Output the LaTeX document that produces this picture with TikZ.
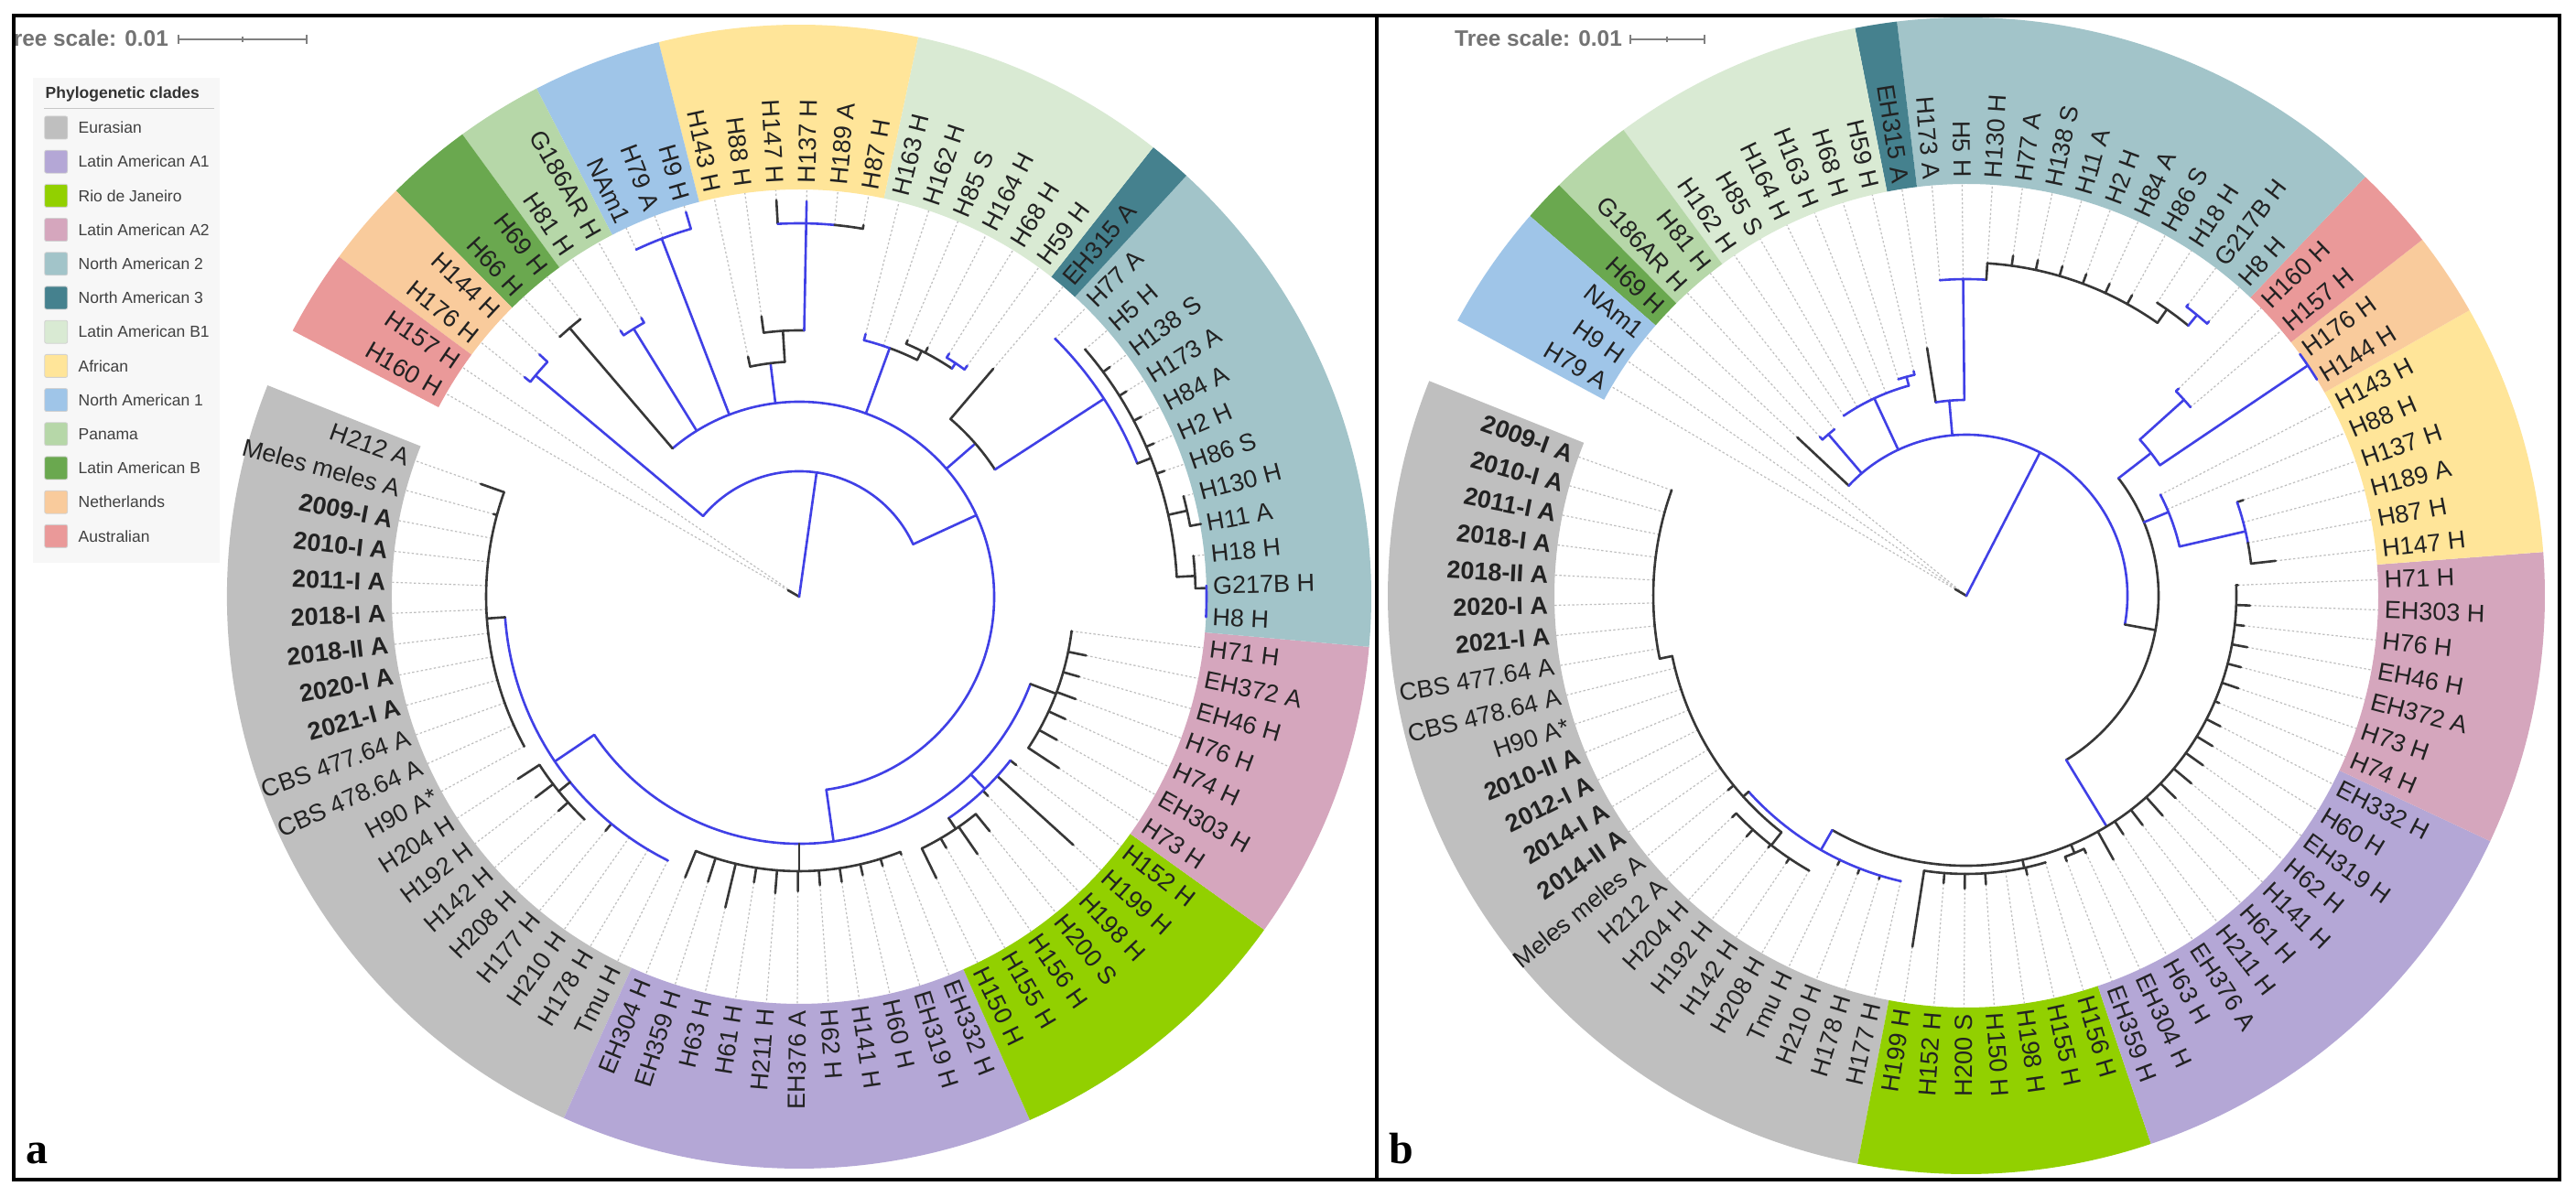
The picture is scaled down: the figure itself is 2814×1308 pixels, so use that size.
\documentclass[tikz,border=0pt]{standalone}
\usepackage{fontspec}
\setmainfont{Liberation Sans}
\newfontfamily\panelfont{Liberation Serif}
\definecolor{cEur}{RGB}{191,191,191}
\definecolor{cLA1}{RGB}{180,167,214}
\definecolor{cRio}{RGB}{146,208,0}
\definecolor{cLA2}{RGB}{213,166,189}
\definecolor{cNA2}{RGB}{162,196,201}
\definecolor{cNA3}{RGB}{69,129,142}
\definecolor{cLB1}{RGB}{217,234,211}
\definecolor{cAfr}{RGB}{255,229,153}
\definecolor{cNA1}{RGB}{159,197,232}
\definecolor{cPan}{RGB}{182,215,168}
\definecolor{cLB}{RGB}{106,168,79}
\definecolor{cNL}{RGB}{249,203,156}
\definecolor{cAus}{RGB}{234,153,153}
\definecolor{brB}{RGB}{64,64,230}
\definecolor{brK}{RGB}{55,55,55}
\definecolor{leadc}{RGB}{190,190,190}
\definecolor{labc}{RGB}{34,34,34}
\tikzset{
  br/.style={line width=2.6pt,line cap=round},
  leadl/.style={draw=leadc,line width=1.2pt,dash pattern=on 2.4pt off 2.4pt},
  lab/.style={font=\fontsize{27}{30}\selectfont,text=labc,inner sep=0pt},
  legtxt/.style={font=\fontsize{17.5}{20}\selectfont,text=black!75,inner sep=0pt},
  swatch/.style={draw=black!18,line width=0.8pt,minimum width=25pt,minimum height=25pt,inner sep=0pt,rounded corners=2pt},
  scaletxt/.style={font=\bfseries\fontsize{24.4}{28}\selectfont,text=black!55,inner sep=0pt},
  scalebar/.style={draw=black!50,line width=1.4pt},
  panelframe/.style={draw=black,line width=3.5pt},
}
\newcommand\TAng[1]{\Tz+\Ts*(#1)}
\newcommand\TArc[4][brK]{\draw[br,#1] (#3:#2pt) arc[start angle=#3,end angle=#4,radius=#2pt];}
\newcommand\TRad[4][brK]{\draw[br,#1] (#2:#3pt) -- (#2:#4pt);}
\newcommand\TLeaf[4][brK]{\draw[leadl] ({\TAng{#2}}:#4pt) -- ({\TAng{#2}}:\Ri pt);\draw[br,#1] ({\TAng{#2}}:#3pt) -- ({\TAng{#2}}:#4pt);}
\newcommand\TBand[3]{\fill[#1] ({\TAng{#2}}:\Ri pt) arc[start angle={\TAng{#2}},end angle={\TAng{#3}},radius=\Ri pt] -- ({\TAng{#3}}:\Ro pt) arc[start angle={\TAng{#3}},end angle={\TAng{#2}},radius=\Ro pt] -- cycle;}
\newcommand\TLabels[2]{%
  \foreach \txt [count=\k from 0] in {#2} {
    \pgfmathsetmacro\ta{\Tz+\Ts*\k}
    \pgfmathsetmacro\cc{cos(\ta)}
    \ifdim\cc pt<0pt
      \pgfmathsetmacro\rr{\ta+180}
      \node[lab,anchor=east,rotate=\rr] (#1\k) at (\ta:\Rl pt) {\txt};
    \else
      \node[lab,anchor=west,rotate=\ta] (#1\k) at (\ta:\Rl pt) {\txt};
    \fi
  }}
\begin{document}
\begin{tikzpicture}[x=1pt,y=1pt]
\useasboundingbox (0,0) rectangle (2814,1308);
\fill[white] (0,0) rectangle (2814,1308);

% ================= LEFT TREE =================
\begin{scope}[shift={(873,656)}]
\def\Tz{160.5}\def\Ts{4.37}\def\Ri{445}\def\Ro{625}\def\Rl{452}
\TBand{cEur}{-0.5}{19.5}
\TBand{cLA1}{19.5}{30.5}
\TBand{cRio}{30.5}{37.5}
\TBand{cLA2}{37.5}{44.5}
\TBand{cNA2}{44.5}{56.5}
\TBand{cNA3}{56.5}{57.5}
\TBand{cLB1}{57.5}{63.5}
\TBand{cAfr}{63.5}{69.5}
\TBand{cNA1}{69.5}{72.5}
\TBand{cPan}{72.5}{74.5}
\TBand{cLB}{74.5}{76.5}
\TBand{cNL}{76.5}{78.5}
\TBand{cAus}{78.5}{80.5}
% leaves
\TLeaf{0}{342}{369}\TLeaf{1}{342}{346}
\foreach \q in {2,...,11}{\TLeaf{\q}{342}{342}}
\TLeaf{12}{338}{366}\TLeaf{13}{338}{362}\TLeaf{14}{338}{352}\TLeaf{15}{338}{338}
\TLeaf{16}{322}{332}\TLeaf[brB]{17}{322}{322}\TLeaf[brB]{18}{322}{322}\TLeaf[brB]{19}{322}{322}
\TLeaf{20}{300}{331}\TLeaf{21}{300}{327}\TLeaf{22}{300}{349}\TLeaf{23}{300}{316}
\TLeaf{24}{300}{325}\TLeaf{25}{300}{322}\TLeaf{26}{300}{316}\TLeaf{27}{300}{315}
\TLeaf{28}{300}{312}\TLeaf{29}{300}{308}\TLeaf{30}{300}{303}
\TLeaf{31}{306}{342}\TLeaf{32}{306}{318}\TLeaf{33}{306}{342}\TLeaf{34}{306}{330}
\TLeaf{35}{292}{300}\TLeaf{36}{292}{404}\TLeaf{37}{292}{300}
\TLeaf{38}{300}{340}\TLeaf{39}{300}{322}\TLeaf{40}{300}{320}\TLeaf{41}{300}{322}
\TLeaf{42}{300}{318}\TLeaf{43}{300}{320}\TLeaf{44}{300}{300}
\TLeaf[brB]{45}{445}{445}\TLeaf[brB]{46}{445}{445}\TLeaf{47}{433}{433}
\TLeaf{48}{434}{446}\TLeaf{49}{434}{434}
\foreach \q in {50,...,54}{\TLeaf{\q}{413}{422}}
\TLeaf{55}{413}{413}\TLeaf[brB]{56}{397}{397}\TLeaf{57}{255}{327}
\TLeaf[brB]{58}{307}{312}\TLeaf[brB]{59}{307}{312}\TLeaf{60}{300}{306}\TLeaf{61}{300}{304}
\TLeaf{62}{289}{289}\TLeaf[brB]{63}{289}{296}
\TLeaf{64}{408}{412}\TLeaf[brB]{65}{408}{408}\TLeaf[brB]{66}{408}{432}\TLeaf{67}{408}{434}
\TLeaf{68}{291}{309}\TLeaf{69}{257}{268}
\TLeaf[brB]{70}{419}{438}\TLeaf[brB]{71}{419}{419}\TLeaf[brB]{72}{419}{419}
\TLeaf[brB]{73}{344}{350}\TLeaf[brB]{74}{344}{350}
\TLeaf{75}{386}{386}\TLeaf{76}{386}{386}
\TLeaf[brB]{77}{376}{388}\TLeaf[brB]{78}{376}{384}
\TLeaf{79}{0}{0}\TLeaf{80}{0}{14}
% internal branches
\TRad[brB]{82}{0}{137}
\TArc[brB]{137}{24.7}{140}
\TRad[brB]{140}{137}{376}
\TArc[brB]{376}{136.99}{141.36}
\TRad[brB]{24.7}{137}{213}
\TArc[brB]{213}{-82}{130.5}
\TRad{130.5}{213}{386}
\TArc{386}{128.25}{132.62}
\TRad[brB]{121.7}{213}{344}
\TArc[brB]{344}{119.51}{123.88}
\TRad[brB]{111}{213}{419}
\TArc[brB]{419}{106.4}{115.14}
\TRad[brB]{97}{213}{257}
\TArc{257}{93.5}{102.03}
\TRad{93.5}{257}{291}
\TArc{291}{88.92}{97.66}
\TRad[brB]{88.92}{291}{408}
\TArc[brB]{408}{84.55}{93.29}
\TArc{408}{80.18}{84.55}
\TRad[brB]{70}{213}{289}
\TArc{289}{63.5}{70}
\TArc[brB]{289}{70}{75.81}
\TRad{63.5}{289}{300}
\TArc{300}{56.2}{67.07}
\TRad[brB]{56.2}{300}{307}
\TArc[brB]{307}{53.96}{58.33}
\TRad[brB]{41}{213}{255}
\TArc{255}{33}{49.59}
\TRad[brB]{33}{255}{397}
\TArc[brB]{397}{21.5}{45.22}
\TRad{21.5}{397}{413}
\TArc{413}{3}{40.85}
\TRad{12.5}{413}{434}
\TArc{434}{10.26}{14.63}
\TRad{3}{413}{433}
\TArc{433}{1.2}{5.89}
\TRad{1.2}{433}{445}
\TArc[brB]{445}{-2.85}{1.52}
\TRad[brB]{278}{213}{270}
\TArc[brB]{270}{214}{339.3}
\TRad[brB]{214}{270}{322}
\TArc[brB]{322}{184}{243.53}
\TRad{184}{322}{342}
\TArc{342}{160.5}{208.57}
\TRad{219}{322}{338}
\TArc{338}{212.94}{226.05}
\TRad{270}{270}{300}
\TArc{300}{247.9}{291.6}
\TRad[brB]{314}{270}{292}
\TArc[brB]{292}{304}{322.19}
\TRad{304}{292}{306}
\TArc{306}{295.97}{309.08}
\TRad{339.3}{270}{300}
\TArc{300}{326.56}{352.78}
% labels
\TLabels{L}{H212 A, Meles meles A, \textbf{2009-I A}, \textbf{2010-I A}, \textbf{2011-I A}, \textbf{2018-I A}, \textbf{2018-II A}, \textbf{2020-I A}, \textbf{2021-I A}, CBS 477.64 A, CBS 478.64 A, H90 A*, H204 H, H192 H, H142 H, H208 H, H177 H, H210 H, H178 H, Tmu H, EH304 H, EH359 H, H63 H, H61 H, H211 H, EH376 A, H62 H, H141 H, H60 H, EH319 H, EH332 H, H150 H, H155 H, H156 H, H200 S, H198 H, H199 H, H152 H, H73 H, EH303 H, H74 H, H76 H, EH46 H, EH372 A, H71 H, H8 H, G217B H, H18 H, H11 A, H130 H, H86 S, H2 H, H84 A, H173 A, H138 S, H5 H, H77 A, EH315 A, H59 H, H68 H, H164 H, H85 S, H162 H, H163 H, H87 H, H189 A, H137 H, H147 H, H88 H, H143 H, H9 H, H79 A, NAm1, G186AR H, H81 H, H69 H, H66 H, H144 H, H176 H, H157 H, H160 H}
\end{scope}

% ================= RIGHT TREE =================
\begin{scope}[shift={(2148,657)}]
\def\Tz{160.3}\def\Ts{4.207}\def\Ri{450}\def\Ro{632}\def\Rl{457}
\TBand{cEur}{-0.5}{23.5}
\TBand{cRio}{23.5}{30.5}
\TBand{cLA1}{30.5}{41.5}
\TBand{cLA2}{41.5}{48.5}
\TBand{cAfr}{48.5}{54.5}
\TBand{cNL}{54.5}{56.5}
\TBand{cAus}{56.5}{58.5}
\TBand{cNA2}{58.5}{70.5}
\TBand{cNA3}{70.5}{71.5}
\TBand{cLB1}{71.5}{77.5}
\TBand{cPan}{77.5}{79.5}
\TBand{cLB}{79.5}{80.5}
\TBand{cNA1}{80.5}{83.5}
% leaves
\foreach \q in {0,...,7}{\TLeaf{\q}{342}{342}}
\foreach \q in {8,...,13}{\TLeaf{\q}{328}{328}}
\TLeaf{14}{328}{336}
\TLeaf{15}{346}{352}\TLeaf{16}{346}{356}\TLeaf{17}{346}{350}\TLeaf{18}{346}{352}\TLeaf{19}{346}{346}
\TLeaf{20}{320}{326}\TLeaf{21}{320}{326}\TLeaf{22}{320}{324}\TLeaf[brB]{23}{320}{320}
\TLeaf{24}{304}{388}\TLeaf{25}{304}{315}\TLeaf{26}{304}{320}\TLeaf{27}{304}{316}
\TLeaf{28}{304}{304}\TLeaf{29}{304}{312}\TLeaf{30}{304}{304}
\TLeaf{31}{305}{310}\TLeaf{32}{305}{310}
\TLeaf{33}{295}{330}\TLeaf{34}{295}{312}\TLeaf{35}{295}{316}\TLeaf{36}{295}{322}
\TLeaf{37}{295}{318}\TLeaf{38}{295}{320}\TLeaf{39}{295}{318}\TLeaf{40}{295}{315}
\TLeaf{41}{295}{312}\TLeaf{42}{295}{300}\TLeaf{43}{295}{314}\TLeaf{44}{295}{310}
\TLeaf{45}{295}{312}\TLeaf{46}{295}{305}\TLeaf{47}{295}{310}\TLeaf{48}{295}{297}
\TLeaf{49}{313}{340}\TLeaf[brB]{50}{313}{313}\TLeaf[brB]{51}{313}{313}\TLeaf{52}{313}{320}
\TLeaf[brB]{53}{239}{239}\TLeaf[brB]{54}{239}{239}
\TLeaf[brB]{55}{450}{450}\TLeaf[brB]{56}{450}{450}
\TLeaf[brB]{57}{320}{320}\TLeaf[brB]{58}{320}{324}
\TLeaf[brB]{59}{397}{400}\TLeaf[brB]{60}{397}{400}\TLeaf{61}{382}{382}
\foreach \q in {62,...,67}{\TLeaf{\q}{364}{375}}
\TLeaf{68}{364}{364}\TLeaf[brB]{69}{346}{346}\TLeaf[brB]{70}{346}{346}
\TLeaf{71}{214}{274}
\TLeaf[brB]{72}{248}{252}\TLeaf[brB]{73}{248}{248}
\foreach \q in {74,...,77}{\TLeaf[brB]{\q}{238}{238}}
\TLeaf[brB]{78}{232}{232}\TLeaf[brB]{79}{232}{236}
\TLeaf{80}{176}{253}
\TLeaf{81}{0}{0}\TLeaf{82}{0}{0}\TLeaf{83}{0}{14}
% internal branches
\TRad[brB]{62.8}{0}{176}
\TArc[brB]{176}{-10.3}{136.86}
\TRad[brB]{130.5}{176}{232}
\TArc[brB]{232}{128.45}{132.65}
\TRad[brB]{115}{176}{238}
\TArc[brB]{238}{105.3}{124.24}
\TRad[brB]{105.3}{238}{248}
\TArc[brB]{248}{103.2}{107.41}
\TRad[brB]{95}{176}{214}
\TArc[brB]{214}{90.58}{99}
\TRad[brB]{90.58}{214}{346}
\TArc[brB]{346}{86.38}{94.79}
\TRad{86.38}{346}{364}
\TArc{364}{55}{86.38}
\TRad{55}{364}{382}
\TArc{382}{50.6}{56.93}
\TRad[brB]{50.6}{382}{397}
\TArc[brB]{397}{48.51}{52.72}
\TRad{-10.3}{176}{210}
\TArc{210}{-58.7}{37.7}
\TRad[brB]{37.7}{210}{255}
\TArc[brB]{255}{34}{42}
\TRad[brB]{42}{255}{320}
\TArc[brB]{320}{40.1}{44.31}
\TRad[brB]{34}{255}{450}
\TArc[brB]{450}{31.69}{35.89}
\TRad[brB]{22.5}{210}{239}
\TArc[brB]{239}{13}{27.48}
\TRad[brB]{13}{239}{313}
\TArc[brB]{313}{10.65}{19.06}
\TArc{313}{6.44}{10.65}
\TRad[brB]{301.3}{210}{295}
\TArc{295}{240.23}{362.24}
\TRad{282}{295}{304}
\TArc{304}{261.27}{286.51}
\TRad{292.8}{295}{305}
\TArc{305}{290.72}{294.92}
\TRad[brB]{240.23}{295}{320}
\TArc[brB]{320}{222}{257.06}
\TRad{222}{320}{328}
\TArc{328}{191.6}{232}
\TRad{191.6}{328}{342}
\TArc{342}{160.3}{191.6}
\TRad{232}{328}{346}
\TArc{346}{223.41}{240.23}
% labels
\TLabels{R}{\textbf{2009-I A}, \textbf{2010-I A}, \textbf{2011-I A}, \textbf{2018-I A}, \textbf{2018-II A}, \textbf{2020-I A}, \textbf{2021-I A}, CBS 477.64 A, CBS 478.64 A, H90 A*, \textbf{2010-II A}, \textbf{2012-I A}, \textbf{2014-I A}, \textbf{2014-II A}, Meles meles A, H212 A, H204 H, H192 H, H142 H, H208 H, Tmu H, H210 H, H178 H, H177 H, H199 H, H152 H, H200 S, H150 H, H198 H, H155 H, H156 H, EH359 H, EH304 H, H63 H, EH376 A, H211 H, H61 H, H141 H, H62 H, EH319 H, H60 H, EH332 H, H74 H, H73 H, EH372 A, EH46 H, H76 H, EH303 H, H71 H, H147 H, H87 H, H189 A, H137 H, H88 H, H143 H, H144 H, H176 H, H157 H, H160 H, H8 H, G217B H, H18 H, H86 S, H84 A, H2 H, H11 A, H138 S, H77 A, H130 H, H5 H, H173 A, EH315 A, H59 H, H68 H, H163 H, H164 H, H85 S, H162 H, H81 H, G186AR H, H69 H, NAm1, H9 H, H79 A}
\end{scope}

% ================= LEGEND =================
\fill[black!3] (36,1223) rectangle (240,693);
\node[font=\bfseries\fontsize{17.5}{20}\selectfont,text=black!80,anchor=west,inner sep=0pt] (legT) at (49.5,1205) {Phylogenetic clades};
\draw[black!22,line width=1pt] (48,1189.5) -- (234,1189.5);
\foreach \cl/\nm [count=\j from 0] in {cEur/Eurasian, cLA1/Latin American A1, cRio/Rio de Janeiro, cLA2/Latin American A2, cNA2/North American 2, cNA3/North American 3, cLB1/Latin American B1, cAfr/African, cNA1/North American 1, cPan/Panama, cLB/Latin American B, cNL/Netherlands, cAus/Australian} {
  \pgfmathsetmacro\yy{1168.5-37.2*\j}
  \node[swatch,fill=\cl] (sw\j) at (61.25,\yy) {};
  \node[legtxt,anchor=west] (lg\j) at (85.5,\yy) {\nm};
}

% ================= SCALES =================
\begin{scope}
\clip (17,0) rectangle (1504,1308);
\node[scaletxt,anchor=base west] (tsL) at (1,1257) {Tree scale: 0.01};
\end{scope}
\draw[scalebar] (195,1265) -- (335,1265);
\draw[scalebar] (195,1260) -- (195,1270);
\draw[scalebar] (335,1260) -- (335,1270);
\draw[scalebar] (265,1262) -- (265,1268);
\node[scaletxt,anchor=base west] (tsR) at (1589,1257) {Tree scale: 0.01};
\draw[scalebar] (1781,1265) -- (1862,1265);
\draw[scalebar] (1781,1260) -- (1781,1270);
\draw[scalebar] (1862,1260) -- (1862,1270);
\draw[scalebar] (1821,1262) -- (1821,1268);

% ================= FRAME & PANEL LETTERS =================
\draw[panelframe] (15,19) rectangle (2796,1291);
\draw[panelframe] (1504,19) -- (1504,1291);
\node[anchor=base west,inner sep=0pt,font=\panelfont\bfseries\fontsize{48}{48}\selectfont] (pa) at (28,36) {a};
\node[anchor=base west,inner sep=0pt,font=\panelfont\bfseries\fontsize{48}{48}\selectfont] (pb) at (1517,36) {b};
\end{tikzpicture}
\end{document}
